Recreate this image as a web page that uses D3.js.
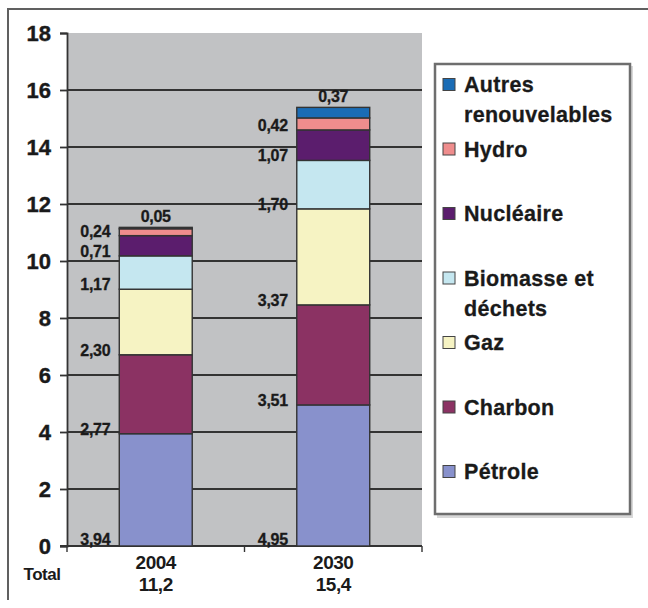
<!DOCTYPE html>
<html>
<head>
<meta charset="utf-8">
<script src="https://cdn.jsdelivr.net/npm/d3@7"></script>
<style>
  html, body { margin: 0; padding: 0; background: #fff; }
  svg { display: block; font-family: "Liberation Sans", Arial, sans-serif; font-weight: bold; }
</style>
</head>
<body>
<svg id="chart" width="648" height="608"></svg>
<script>
const categories = ["2004", "2030"];
const totalLabels = ["11,2", "15,4"];
const seriesNames = ["Pétrole", "Charbon", "Gaz", "Biomasse et déchets", "Nucléaire", "Hydro", "Autres renouvelables"];
const legendLines = [["Pétrole"], ["Charbon"], ["Gaz"], ["Biomasse et", "déchets"], ["Nucléaire"], ["Hydro"], ["Autres", "renouvelables"]];
const petrole = [3.94, 4.95];
const charbon = [2.77, 3.51];
const gaz = [2.30, 3.37];
const biomasse = [1.17, 1.70];
const nucleaire = [0.71, 1.07];
const hydro = [0.24, 0.42];
const autres = [0.05, 0.37];
const yTicks = [0, 2, 4, 6, 8, 10, 12, 14, 16, 18];
const colors = ["#8891cc", "#8b3263", "#f6f3c3", "#c5e7f0", "#5b1d6d", "#ef8d8d", "#1a6cb5"];

const seriesValues = [petrole, charbon, gaz, biomasse, nucleaire, hydro, autres];
const table = categories.map((c, i) => {
  const row = { cat: c };
  seriesNames.forEach((s, j) => row[s] = seriesValues[j][i]);
  return row;
});
const fmt = v => v.toFixed(2).replace(".", ",");

const svg = d3.select("#chart");

// outer frame (left and top)
svg.append("path").attr("d", "M8,600 V9 H648").attr("fill", "none").attr("stroke", "#606060").attr("stroke-width", 2);

const plot = { left: 67, right: 422, top: 33, bottom: 546 };
const x = d3.scaleBand().domain(categories).range([plot.left, plot.right]).paddingInner(0.589).paddingOuter(0.2945);
const y = d3.scaleLinear().domain([0, 18]).range([plot.bottom, plot.top]);

// plot background
svg.append("rect").attr("x", plot.left).attr("y", plot.top).attr("width", plot.right - plot.left).attr("height", plot.bottom - plot.top).attr("fill", "#c1c2c4");

// gridlines
svg.append("g").selectAll("line").data(yTicks.filter(t => t > 0 && t < 18)).join("line")
  .attr("x1", plot.left).attr("x2", plot.right).attr("y1", d => y(d)).attr("y2", d => y(d))
  .attr("stroke", "#333").attr("stroke-width", 1.8);

// y axis
const yAxis = d3.axisLeft(y).tickValues(yTicks).tickSize(7).tickPadding(9).tickFormat(d3.format("d"));
const yg = svg.append("g").attr("transform", `translate(${plot.left},0)`).call(yAxis);
yg.select(".domain").attr("stroke", "#333").attr("stroke-width", 1.8);
yg.selectAll(".tick line").attr("stroke", "#333").attr("stroke-width", 1.8);
yg.selectAll(".tick text").attr("font-size", 22).attr("font-weight", "bold").attr("fill", "#1a1a1a")
  .attr("font-family", "Liberation Sans, Arial, sans-serif").attr("stroke", "#1a1a1a").attr("stroke-width", 0.4);

// x axis baseline and ticks
svg.append("line").attr("x1", plot.left - 7).attr("x2", plot.right).attr("y1", y(0)).attr("y2", y(0)).attr("stroke", "#333").attr("stroke-width", 1.8);
const boundaries = [plot.left, (x(categories[0]) + x.bandwidth() + x(categories[1])) / 2, plot.right];
svg.append("g").selectAll("line").data(boundaries).join("line")
  .attr("x1", d => d).attr("x2", d => d).attr("y1", y(0)).attr("y2", y(0) + 6)
  .attr("stroke", "#333").attr("stroke-width", 1.4);

// stacked bars
const stack = d3.stack().keys(seriesNames)(table);
const layers = svg.append("g").selectAll("g").data(stack).join("g").attr("fill", (d, i) => colors[i]);
layers.selectAll("rect").data(d => d).join("rect")
  .attr("x", d => x(d.data.cat)).attr("width", x.bandwidth())
  .attr("y", d => y(d[1])).attr("height", d => y(d[0]) - y(d[1]))
  .attr("stroke", "#333").attr("stroke-width", 1.4);

// value labels
const lastIdx = seriesNames.length - 1;
stack.forEach((layer, li) => {
  layer.forEach(d => {
    const v = d[1] - d[0];
    const t = svg.append("text").text(fmt(v)).attr("font-size", 16).attr("fill", "#1a1a1a")
      .attr("letter-spacing", -0.3).attr("stroke", "#1a1a1a").attr("stroke-width", 0.3);
    if (li === lastIdx) {
      t.attr("x", x(d.data.cat) + x.bandwidth() / 2).attr("y", y(d[1]) - 5).attr("text-anchor", "middle");
    } else {
      t.attr("x", x(d.data.cat) - 9).attr("y", Math.min(y(d[0]) + 1, y(0) - 1)).attr("text-anchor", "end");
    }
  });
});

// category labels and totals
svg.append("g").selectAll("text").data(categories).join("text")
  .attr("x", d => x(d) + x.bandwidth() / 2).attr("y", 569).attr("text-anchor", "middle")
  .attr("font-size", 19).attr("fill", "#1a1a1a").attr("letter-spacing", -0.5).text(d => d);
svg.append("g").selectAll("text").data(totalLabels).join("text")
  .attr("x", (d, i) => x(categories[i]) + x.bandwidth() / 2).attr("y", 591).attr("text-anchor", "middle")
  .attr("font-size", 19).attr("fill", "#1a1a1a").attr("letter-spacing", -0.5).text(d => d);
svg.append("text").attr("x", 42).attr("y", 580).attr("text-anchor", "middle").attr("font-size", 17)
  .attr("fill", "#1a1a1a").attr("letter-spacing", -0.5).text("Total");

// legend
const lg = svg.append("g");
lg.append("rect").attr("x", 437).attr("y", 66).attr("width", 196).attr("height", 452).attr("fill", "#d8d8d8");
lg.append("rect").attr("x", 435).attr("y", 64).attr("width", 195).attr("height", 450).attr("fill", "#fff").attr("stroke", "#6e6e6e").attr("stroke-width", 2.5);
const legendOrder = d3.range(seriesNames.length).reverse();
const ly = d3.scaleLinear().domain([0, legendOrder.length - 1]).range([85, 472]);
legendOrder.forEach((si, k) => {
  const cy = ly(k);
  lg.append("rect").attr("x", 443).attr("y", cy - 6.5).attr("width", 12).attr("height", 12)
    .attr("fill", colors[si]).attr("stroke", "#444").attr("stroke-width", 1);
  legendLines[si].forEach((line, li) => {
    lg.append("text").attr("x", 464).attr("y", cy + 7 + li * 30).attr("font-size", 21.5)
      .attr("letter-spacing", 0.3).attr("fill", "#1a1a1a").attr("stroke", "#1a1a1a").attr("stroke-width", 0.3).text(line);
  });
});
</script>
</body>
</html>
